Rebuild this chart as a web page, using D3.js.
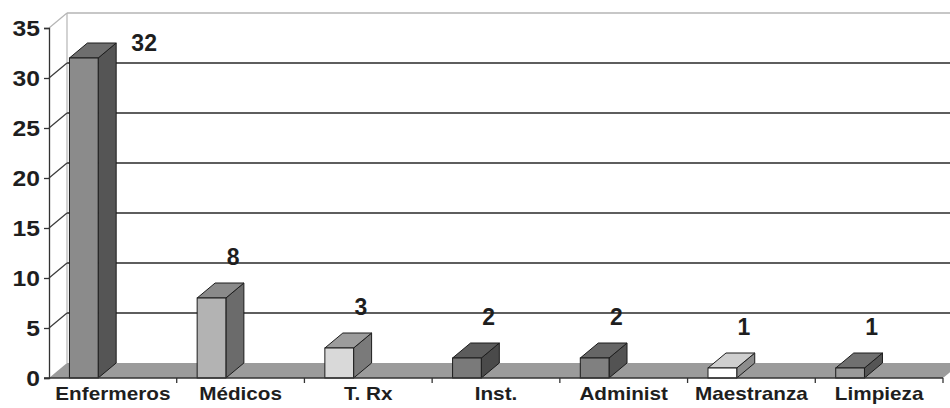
<!DOCTYPE html>
<html>
<head>
<meta charset="utf-8">
<script src="https://cdn.jsdelivr.net/npm/d3@7"></script>
<style>
  html, body { margin: 0; padding: 0; background: #fff; }
  svg { display: block; }
  text { font-family: "Liberation Sans", Arial, sans-serif; font-weight: bold; fill: #1e1e1e; }
</style>
</head>
<body>
<svg id="chart" width="950" height="408"></svg>
<script>
// Personnel count per staff group
const categories = ["Enfermeros", "Médicos", "T. Rx", "Inst.", "Administ", "Maestranza", "Limpieza"];
const values = [32, 8, 3, 2, 2, 1, 1];
const yTicks = [0, 5, 10, 15, 20, 25, 30, 35];

// Face shades for each column: front, side, top
const palette = [
  { front: "#8b8b8b", side: "#555555", top: "#6e6e6e" },
  { front: "#b3b3b3", side: "#6b6b6b", top: "#8a8a8a" },
  { front: "#d9d9d9", side: "#7a7a7a", top: "#9c9c9c" },
  { front: "#7a7a7a", side: "#4a4a4a", top: "#5c5c5c" },
  { front: "#808080", side: "#535353", top: "#666666" },
  { front: "#ffffff", side: "#8c8c8c", top: "#cfcfcf" },
  { front: "#9a9a9a", side: "#555555", top: "#707070" }
];

const svg = d3.select("#chart");
const plotLeft = 49, plotRight = 943, plotBottom = 378, plotTop = 28;
const dx = 18, dy = -15;           // depth offset of the back wall

const x = d3.scaleBand().domain(categories).range([plotLeft, plotRight]).padding(0);
const y = d3.scaleLinear().domain([0, 35]).range([plotBottom, plotTop]);
const bw = x.bandwidth();
const barLeft = c => x(c) + bw * 0.16;
const barW = bw * 0.225;

// Back wall frame
const g = svg.append("g");
g.append("line")
  .attr("x1", plotLeft + dx).attr("x2", 950)
  .attr("y1", y(35) + dy).attr("y2", y(35) + dy)
  .attr("stroke", "#b5b5b5").attr("stroke-width", 1.5);
g.append("line")
  .attr("x1", plotLeft + dx).attr("x2", plotLeft + dx)
  .attr("y1", y(35) + dy).attr("y2", y(0) + dy)
  .attr("stroke", "#b5b5b5").attr("stroke-width", 1.2);
g.append("line")
  .attr("x1", plotLeft).attr("x2", plotLeft + dx)
  .attr("y1", y(35)).attr("y2", y(35) + dy)
  .attr("stroke", "#b5b5b5").attr("stroke-width", 1.2);

// Gridlines on back wall and the left wall diagonals
const grid = yTicks.filter(t => t > 0 && t < 35);
g.selectAll(".grid").data(grid).join("line")
  .attr("x1", plotLeft + dx).attr("x2", 950)
  .attr("y1", d => y(d) + dy).attr("y2", d => y(d) + dy)
  .attr("stroke", "#5e5e5e").attr("stroke-width", 1.8);
g.selectAll(".diag").data(grid).join("line")
  .attr("x1", plotLeft).attr("x2", plotLeft + dx)
  .attr("y1", d => y(d)).attr("y2", d => y(d) + dy)
  .attr("stroke", "#3a3a3a").attr("stroke-width", 1.2);

// Floor
g.append("path")
  .attr("d", `M${plotLeft},${y(0)} L${plotRight},${y(0)} L${plotRight + dx},${y(0) + dy} L${plotLeft + dx},${y(0) + dy} Z`)
  .attr("fill", "#9b9b9b");

// Columns
const bars = svg.append("g").selectAll("g").data(categories).join("g");
bars.each(function (c, i) {
  const v = values[i];
  const x0 = barLeft(c), x1 = x0 + barW;
  const y0 = y(0), y1 = y(v);
  const sel = d3.select(this);
  const col = palette[i];
  sel.append("path")
    .attr("d", `M${x1},${y0} L${x1 + dx},${y0 + dy} L${x1 + dx},${y1 + dy} L${x1},${y1} Z`)
    .attr("fill", col.side).attr("stroke", "#1c1c1c").attr("stroke-width", 1).attr("stroke-linejoin", "round");
  sel.append("path")
    .attr("d", `M${x0},${y1} L${x0 + dx},${y1 + dy} L${x1 + dx},${y1 + dy} L${x1},${y1} Z`)
    .attr("fill", col.top).attr("stroke", "#1c1c1c").attr("stroke-width", 1).attr("stroke-linejoin", "round");
  sel.append("rect")
    .attr("x", x0).attr("y", y1).attr("width", barW).attr("height", y0 - y1)
    .attr("fill", col.front).attr("stroke", "#1c1c1c").attr("stroke-width", 1);
});

// Value labels: above the column, or beside it when there is no room under the frame
const labelSize = 23;
svg.append("g").selectAll("text").data(categories).join("text")
  .each(function (c, i) {
    const v = values[i];
    let lx = barLeft(c) + 36, ly = y(v) - 33;
    if (ly - labelSize < y(35) + dy) {
      lx = barLeft(c) + barW + dx + 28;
      ly = y(v) - 7;
    }
    d3.select(this).attr("x", lx).attr("y", ly);
  })
  .attr("text-anchor", "middle")
  .attr("font-size", labelSize)
  .text((c, i) => values[i]);

// Y axis
const yAxis = svg.append("g")
  .attr("transform", `translate(${plotLeft},0)`)
  .call(d3.axisLeft(y).tickValues(yTicks).tickSize(5).tickPadding(5));
yAxis.select(".domain").attr("stroke", "#333").attr("stroke-width", 1.3);
yAxis.selectAll(".tick line").attr("stroke", "#333").attr("stroke-width", 1.3);
yAxis.selectAll("text").attr("font-size", 22).attr("fill", "#1e1e1e")
  .attr("font-family", '"Liberation Sans", Arial, sans-serif').attr("font-weight", "bold")
  .attr("textLength", function () { return this.getComputedTextLength() * 1.12; })
  .attr("lengthAdjust", "spacingAndGlyphs")
  .attr("x", -9);

// X axis: baseline with ticks at category boundaries, labels centred
svg.append("line")
  .attr("x1", plotLeft - 5).attr("x2", plotRight)
  .attr("y1", plotBottom).attr("y2", plotBottom)
  .attr("stroke", "#333").attr("stroke-width", 1.3);
const bounds = categories.map(c => x(c) + bw);
svg.append("g").selectAll("line").data(bounds).join("line")
  .attr("x1", d => d).attr("x2", d => d)
  .attr("y1", plotBottom).attr("y2", plotBottom + 5)
  .attr("stroke", "#333").attr("stroke-width", 1.3);
const xAxis = svg.append("g")
  .attr("transform", `translate(0,${plotBottom})`)
  .call(d3.axisBottom(x).tickSize(0).tickPadding(9));
xAxis.select(".domain").remove();
xAxis.selectAll("text").attr("font-size", 19).attr("fill", "#1e1e1e")
  .attr("font-family", '"Liberation Sans", Arial, sans-serif').attr("font-weight", "bold")
  .attr("textLength", function () { return this.getComputedTextLength() * 1.09; })
  .attr("lengthAdjust", "spacingAndGlyphs");
</script>
</body>
</html>
